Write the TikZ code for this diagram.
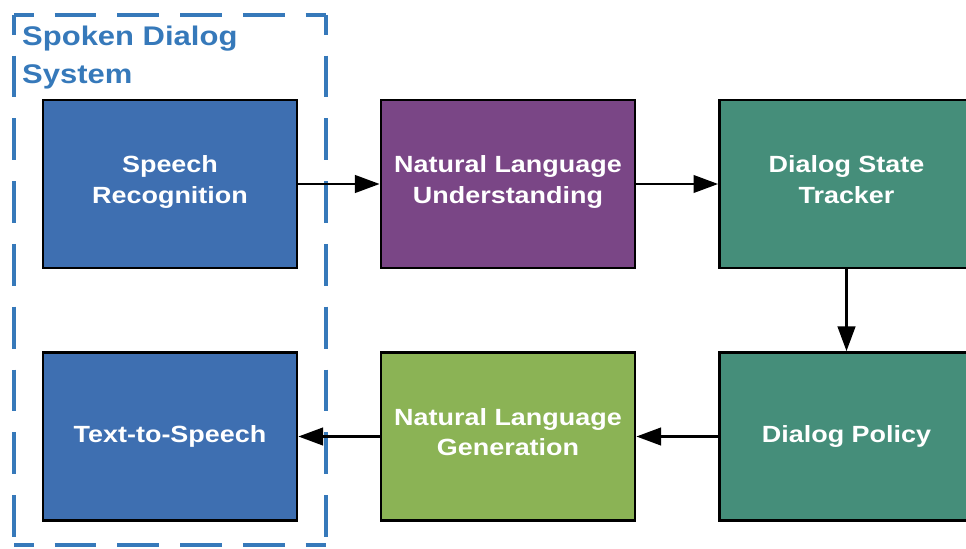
\documentclass[tikz,border=0pt]{standalone}
\usepackage{fontspec}
\newfontfamily\diagfont[FakeStretch=1.15]{Liberation Sans}
\usepackage{xcolor}
\usetikzlibrary{arrows.meta}

\definecolor{asrblue}{RGB}{62,111,177}
\definecolor{nluviolet}{RGB}{122,70,134}
\definecolor{dmteal}{RGB}{69,142,122}
\definecolor{nlggreen}{RGB}{139,179,85}
\definecolor{sdsblue}{RGB}{54,121,186}

\begin{document}
\begin{tikzpicture}[x=0.3mm, y=-0.3mm,
    stage/.style={draw=black, line width=2.4pt, minimum width=76.2mm,
    minimum height=50.4mm, text=white, align=center,
    execute at begin node=\strut, execute at end node=\strut,
    font=\diagfont\bfseries\fontsize{20}{26}\selectfont},
    flow/.style={-{Triangle[length=21pt,width=15pt]}, line width=2pt},
    sdsframe/.style={draw=sdsblue, line width=2.8pt,
    dash pattern=on 35.7pt off 17.9pt, dash phase=19pt}]
    \useasboundingbox (0,0) rectangle (966,548);

    % dashed frame round the speech parts
    \draw[sdsframe] (14,15) -- (326,15);
    \draw[sdsframe] (14,15) -- (14,545);
    \draw[sdsframe] (326,15) -- (326,545);
    \draw[sdsframe] (14,545) -- (326,545);
    \node[anchor=north west, inner sep=0pt, align=left, text=sdsblue,
    font=\diagfont\bfseries\fontsize{23}{32}\selectfont] (sdstitle)
    at (22,26) {Spoken Dialog\\System};

    % top row
    \node[stage, fill=asrblue] (asr) at (170,184) {Speech\\Recognition};
    \node[stage, fill=nluviolet] (nlu) at (508,184) {Natural Language\\Understanding};
    \node[stage, fill=dmteal] (dst) at (846.5,184) {Dialog State\\Tracker};

    % bottom row
    \node[stage, fill=asrblue] (tts) at (170,436.5) {Text-to-Speech};
    \node[stage, fill=nlggreen] (nlg) at (508,436.5) {Natural Language\\Generation};
    \node[stage, fill=dmteal] (policy) at (846.5,436.5) {Dialog Policy};

    \draw[flow] (asr) -- (nlu);
    \draw[flow] (nlu) -- (dst);
    \draw[flow] (dst) -- (policy);
    \draw[flow] (policy) -- (nlg);
    \draw[flow] (nlg) -- (tts);
\end{tikzpicture}
\end{document}
